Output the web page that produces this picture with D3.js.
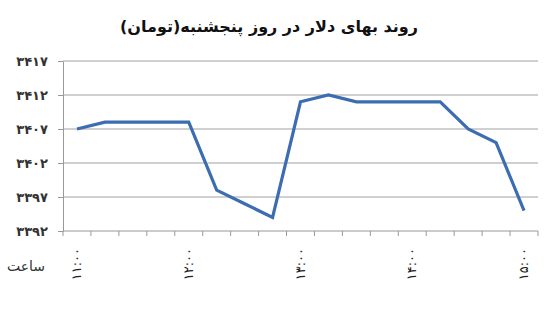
<!DOCTYPE html>
<html>
<head>
<meta charset="utf-8">
<script src="https://cdn.jsdelivr.net/npm/d3@7"></script>
<style>
  body { margin: 0; background: #fff; }
  text { font-family: "DejaVu Sans", sans-serif; }
</style>
</head>
<body>
<script>
// quarter-hour readings, Thursday
const times = ['11:00','11:15','11:30','11:45','12:00','12:15','12:30','12:45','13:00',
               '13:15','13:30','13:45','14:00','14:15','14:30','14:45','15:00'];
const prices = [3407, 3408, 3408, 3408, 3408, 3398, 3396, 3394, 3411,
                3412, 3411, 3411, 3411, 3411, 3407, 3405, 3395];
const yTicks = [3392, 3397, 3402, 3407, 3412, 3417];
const hourLabels = ['11:00', '12:00', '13:00', '14:00', '15:00'];

const fa = s => String(s).replace(/[0-9]/g, c => '۰۱۲۳۴۵۶۷۸۹'[+c]);

const width = 550, height = 315;
const margin = { top: 61, right: 12, bottom: 84, left: 63 };

const svg = d3.select('body').append('svg')
    .attr('width', width)
    .attr('height', height);

const x = d3.scaleBand()
    .domain(times)
    .range([margin.left, width - margin.right])
    .padding(0);

const y = d3.scaleLinear()
    .domain([3392, 3417])
    .range([height - margin.bottom, margin.top]);

// title
svg.append('text')
    .attr('x', 269)
    .attr('y', 32)
    .attr('text-anchor', 'middle')
    .style('font-size', '16px')
    .style('font-weight', 'bold')
    .attr('fill', '#111')
    .text('روند بهای دلار در روز پنجشنبه(تومان)');

// gridlines
svg.append('g')
    .selectAll('line')
    .data(yTicks.slice(1))
    .enter().append('line')
    .attr('x1', margin.left)
    .attr('x2', width - margin.right)
    .attr('y1', d => y(d))
    .attr('y2', d => y(d))
    .attr('stroke', '#a0a0a0')
    .attr('stroke-width', 1);

// y axis
const yAxis = svg.append('g')
    .attr('transform', `translate(${margin.left},0)`)
    .call(d3.axisLeft(y).tickValues(yTicks).tickSize(5).tickSizeOuter(0).tickFormat(fa));
yAxis.select('.domain').attr('stroke', '#999');
yAxis.selectAll('.tick line').attr('stroke', '#999');
yAxis.selectAll('.tick text')
    .attr('x', -15)
    .style('font-size', '13px')
    .style('font-weight', 'bold')
    .style('letter-spacing', '1.5px')
    .attr('fill', '#333');

// x axis line + boundary ticks
const base = y(3392);
svg.append('line')
    .attr('x1', margin.left).attr('x2', width - margin.right)
    .attr('y1', base).attr('y2', base)
    .attr('stroke', '#999');
svg.append('g')
    .selectAll('line')
    .data(times.concat(['end']))
    .enter().append('line')
    .attr('x1', d => d === 'end' ? x.range()[1] : x(d))
    .attr('x2', d => d === 'end' ? x.range()[1] : x(d))
    .attr('y1', base)
    .attr('y2', base + 5)
    .attr('stroke', '#999');

// hour labels, rotated
svg.append('g')
    .selectAll('text')
    .data(hourLabels)
    .enter().append('text')
    .attr('transform', d => `translate(${x(d) + x.bandwidth() / 2 + 4},${base + 17}) rotate(-90)`)
    .attr('text-anchor', 'end')
    .style('font-size', '13px')
    .style('letter-spacing', '2px')
    .attr('fill', '#222')
    .text(d => fa(d));

svg.append('text')
    .attr('x', 45)
    .attr('y', 271)
    .attr('text-anchor', 'end')
    .style('font-size', '14px')
    .attr('fill', '#333')
    .text('ساعت');

// line
const line = d3.line()
    .x((d, i) => x(times[i]) + x.bandwidth() / 2)
    .y(d => y(d));

svg.append('path')
    .datum(prices)
    .attr('d', line)
    .attr('fill', 'none')
    .attr('stroke', '#3c6db0')
    .attr('stroke-width', 3.2);
</script>
</body>
</html>
